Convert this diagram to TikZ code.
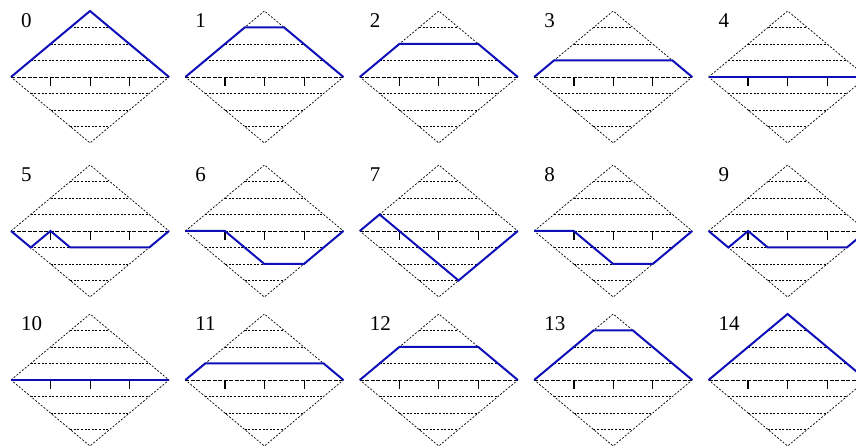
\documentclass[tikz,border=0pt]{standalone}
\usepackage{fontspec}
\setmainfont{Liberation Serif}
\definecolor{walkblue}{RGB}{15,15,185}
\begin{document}
\begin{tikzpicture}[x=1pt,y=1pt,
    edge/.style={dash pattern=on 2pt off 1.6pt, line width=0.7pt},
    axisline/.style={dash pattern=on 4pt off 1.5pt, line width=0.8pt},
    walk/.style={walkblue, line width=2pt},
    panellabel/.style={anchor=west, inner sep=0pt, font=\fontsize{21}{24}\selectfont}]
    \useasboundingbox (0,0) rectangle (856,446);
    % one diamond per step, 5 in a row
    \foreach \pts [count=\n from 0] in {
        {(-4,0) -- (0,4) -- (4,0)},
        {(-4,0) -- (-1,3) -- (1,3) -- (4,0)},
        {(-4,0) -- (-2,2) -- (2,2) -- (4,0)},
        {(-4,0) -- (-3,1) -- (3,1) -- (4,0)},
        {(-4,0) -- (4,0)},
        {(-4,0) -- (-3,-1) -- (-2,0) -- (-1,-1) -- (3,-1) -- (4,0)},
        {(-4,0) -- (-2,0) -- (0,-2) -- (2,-2) -- (4,0)},
        {(-4,0) -- (-3,1) -- (1,-3) -- (4,0)},
        {(-4,0) -- (-2,0) -- (0,-2) -- (2,-2) -- (4,0)},
        {(-4,0) -- (-3,-1) -- (-2,0) -- (-1,-1) -- (3,-1) -- (4,0)},
        {(-4,0) -- (4,0)},
        {(-4,0) -- (-3,1) -- (3,1) -- (4,0)},
        {(-4,0) -- (-2,2) -- (2,2) -- (4,0)},
        {(-4,0) -- (-1,3) -- (1,3) -- (4,0)},
        {(-4,0) -- (0,4) -- (4,0)}}{
        \pgfmathsetmacro{\cx}{90+174.4*mod(\n,5)}
        \pgfmathsetmacro{\cy}{{369,215,66}[int(\n/5)]}
        \begin{scope}[shift={(\cx,\cy)}, x=19.75pt, y=16.5pt]
            \draw[edge] (-4,0) -- (0,4) -- (4,0) -- (0,-4) -- cycle;
            \foreach \k in {1,2,3} {
                \draw[edge] ({\k-4},\k) -- ({4-\k},\k);
                \draw[edge] ({\k-4},-\k) -- ({4-\k},-\k);
            }
            \draw[axisline] (-4,0) -- (4,0);
            \draw[line width=1.6pt] (-2,0) -- ++(0,-9pt);
            \draw[line width=0.8pt] (0,0) -- ++(0,-9pt);
            \draw[line width=0.8pt] (2,0) -- ++(0,-9pt);
            \draw[walk] \pts;
            \node[panellabel] (step\n) at (-3.5,3.4) {\n};
        \end{scope}
    }
\end{tikzpicture}
\end{document}
